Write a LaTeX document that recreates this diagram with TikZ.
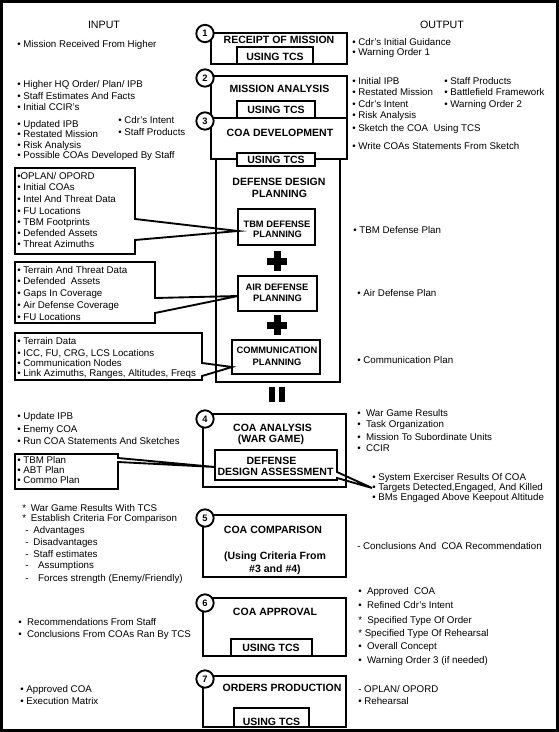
\documentclass[tikz,border=0pt]{standalone}
\usepackage{fontspec}
\setmainfont{Liberation Sans}
\usepackage{tikz}
\usetikzlibrary{calc}

\tikzset{
  stagebox/.style={draw=black, line width=1.5pt},
  tcsbox/.style={draw=black, fill=white, line width=1.5pt},
  calloutline/.style={draw=black, line width=1.4pt, line join=miter},
  numcirc/.style={circle, draw=black, fill=white, line width=1.4pt, minimum size=13pt, inner sep=0pt, font=\fontsize{7}{8}\selectfont\bfseries},
  listitem/.style={anchor=base west, inner sep=0pt, font=\fontsize{7.3}{8}\selectfont},
  colhead/.style={anchor=base, inner sep=0pt, font=\fontsize{8}{9}\selectfont},
  stagettl/.style={anchor=base, inner sep=0pt, font=\fontsize{7.9}{9}\selectfont\bfseries},
  subttl/.style={anchor=base, inner sep=0pt, font=\fontsize{7}{8}\selectfont\bfseries},
}

\begin{document}
\begin{tikzpicture}[x=0.75pt,y=0.75pt,yscale=-1,xscale=1]
\useasboundingbox (0,0) rectangle (559,732);
%Frame
\draw [line width=2.25pt] (1.5,1.5) rectangle (557.5,730.5);

% Column heads
\node [colhead] (inhead) at (104,28) {INPUT};
\node [colhead] (outhead) at (442,28) {OUTPUT};

%Shape: Step 1
\draw [stagebox] (211,33) rectangle (347,64);
\draw [tcsbox] (237,47) rectangle (313,64);
\node [stagettl] (t1) at (279,43.8) {RECEIPT OF MISSION};
\node [stagettl] (u1) at (275,60.3) {USING TCS};

%Shape: Step 2
\draw [stagebox] (211,76) rectangle (347,118);
\draw [tcsbox] (237,101) rectangle (315,118);
\node [stagettl] (t2) at (279.5,92.8) {MISSION ANALYSIS};
\node [stagettl] (u2) at (276,113.5) {USING TCS};

%Shape: Step 3 and defense design planning
\draw [stagebox] (211,118) rectangle (347,159);
\draw [stagebox] (216,159) rectangle (340,382);
\draw [tcsbox] (237,153) rectangle (315,166);
\node [stagettl] (t3) at (280,136.8) {COA DEVELOPMENT};
\node [stagettl] (u3) at (276,163.3) {USING TCS};
\node [stagettl] (ddp1) at (279,185.8) {DEFENSE DESIGN};
\node [stagettl] (ddp2) at (279.5,197.3) {PLANNING};

%Shape: planning boxes
\draw [stagebox] (238,209) rectangle (315,245);
\node [subttl] (tbm1) at (277,227.3) {TBM DEFENSE};
\node [subttl] (tbm2) at (277.5,237.3) {PLANNING};
\coordinate (tbmTip) at (238,231);
\draw [stagebox] (238,276) rectangle (317,311);
\node [subttl] (air1) at (277,290.3) {AIR DEFENSE};
\node [subttl] (air2) at (277.5,301.3) {PLANNING};
\coordinate (airTip) at (238,296);
\draw [stagebox] (232,340) rectangle (320,374);
\node [subttl] (com1) at (277,353.3) {COMMUNICATION};
\node [subttl] (com2) at (277,365.3) {PLANNING};
\coordinate (comTip) at (232,367);

%Shape: plus and equal signs
\fill (273.5,251) rectangle (280.5,271);
\fill (267,257.5) rectangle (287,264.5);
\fill (273.5,315) rectangle (280.5,335);
\fill (267,321.5) rectangle (287,328.5);
\fill (269,387) rectangle (275,402);
\fill (279,387) rectangle (284.5,402);

%Shape: Step 4
\draw [stagebox] (203,414) rectangle (346,487);
\node [stagettl] (t4a) at (272.5,431.8) {COA ANALYSIS};
\node [stagettl] (t4b) at (271,442.8) {(WAR GAME)};
\node [stagettl] (dda1) at (271.5,464.8) {DEFENSE};
\node [stagettl] (dda2) at (275.5,475.8) {DESIGN ASSESSMENT};
\coordinate (ddaTip) at (215,467);

%Shape: Step 5
\draw [stagebox] (203,515) rectangle (346,577);
\node [stagettl] (t5a) at (273,533.8) {COA COMPARISON};
\node [stagettl] (t5b) at (275,559.8) {(Using Criteria From};
\node [stagettl] (t5c) at (275,572.8) {\#3 and \#4)};

%Shape: Step 6
\draw [stagebox] (203,598) rectangle (346,656);
\draw [tcsbox] (231,639) rectangle (312,656);
\node [stagettl] (t6) at (275,615.8) {COA APPROVAL};
\node [stagettl] (u6) at (271,651.5) {USING TCS};

%Shape: Step 7
\draw [stagebox] (203,676) rectangle (346,727);
\draw [tcsbox] (234,708) rectangle (309,727);
\node [stagettl] (t7) at (282,691.8) {ORDERS PRODUCTION};
\node [stagettl] (u7) at (271.5,725) {USING TCS};

% Input text
\node [listitem] (in1) at (17,47.5) {• Mission Received From Higher};
\node [listitem] (in2a) at (17,87.5) {• Higher HQ Order/ Plan/ IPB};
\node [listitem] (in2b) at (17,99.5) {• Staff Estimates And Facts};
\node [listitem] (in2c) at (17,110.5) {• Initial CCIR's};
\node [listitem] (in3a) at (17,127.5) {• Updated IPB};
\node [listitem] (in3b) at (17,137.5) {• Restated Mission};
\node [listitem] (in3c) at (17,148.5) {• Risk Analysis};
\node [listitem] (in3d) at (17,158.5) {• Possible COAs Developed By Staff};
\node [listitem] (in3e) at (118,123.5) {• Cdr's Intent};
\node [listitem] (in3f) at (118,135.5) {• Staff Products};

% Input box for TBM planning
\node [listitem] (tbmA) at (17,179.5) {•OPLAN/ OPORD};
\node [listitem] (tbmB) at (17,190.5) {• Initial COAs};
\node [listitem] (tbmC) at (17,202.5) {• Intel And Threat Data};
\node [listitem] (tbmD) at (17,214.5) {• FU Locations};
\node [listitem] (tbmE) at (17,225.5) {• TBM Footprints};
\node [listitem] (tbmF) at (17,236.5) {• Defended Assets};
\node [listitem] (tbmG) at (17,247.5) {• Threat Azimuths};
\draw [calloutline] (135,219) -- (135,168) -- (15,168) -- (15,254) -- (135,254) -- (135,240) -- (tbmTip) -- cycle;

% Input box for air defense planning
\node [listitem] (airA) at (17,273.5) {• Terrain And Threat Data};
\node [listitem] (airB) at (17,284.5) {• Defended~ Assets};
\node [listitem] (airC) at (17,296.5) {• Gaps In Coverage};
\node [listitem] (airD) at (17,308.5) {• Air Defense Coverage};
\node [listitem] (airE) at (17,320.5) {• FU Locations};
\draw [calloutline] (155,298) -- (155,262) -- (15,262) -- (15,323) -- (155,323) -- (155,313) -- (airTip) -- cycle;

% Input box for communication planning
\node [listitem] (comA) at (17,344.5) {• Terrain Data};
\node [listitem] (comB) at (17,356.5) {• ICC, FU, CRG, LCS Locations};
\node [listitem] (comC) at (17,366.5) {• Communication Nodes};
\node [listitem] (comD) at (17,376.5) {• Link Azimuths, Ranges, Altitudes, Freqs};
\draw [calloutline] (202,363) -- (202,333) -- (15,333) -- (15,380) -- (202,380) -- (202,376) -- (comTip) -- cycle;

% Input for step 4
\node [listitem] (in4a) at (17,419.5) {• Update IPB};
\node [listitem] (in4b) at (17,432.5) {• Enemy COA};
\node [listitem] (in4c) at (17,444.5) {• Run COA Statements And Sketches};
\node [listitem] (planA) at (17,463.5) {• TBM Plan};
\node [listitem] (planB) at (17,473.5) {• ABT Plan};
\node [listitem] (planC) at (17,483.5) {• Commo Plan};
\draw [calloutline] (118,458) -- (118,454) -- (15,454) -- (15,489) -- (118,489) -- (118,462) -- (ddaTip) -- cycle;

% Input for step 5
\node [listitem] (in5a) at (22,511.5) {*\enspace War Game Results With TCS};
\node [listitem] (in5b) at (22,521.5) {*\enspace Establish Criteria For Comparison};
\node [listitem] (in5c) at (25,533.5) {-\enspace Advantages};
\node [listitem] (in5d) at (25,545.5) {-\enspace Disadvantages};
\node [listitem] (in5e) at (25,557.5) {-\enspace Staff estimates};
\node [listitem] (in5f) at (25,568.5) {-\quad Assumptions};
\node [listitem] (in5g) at (25,581.5) {-\quad Forces strength (Enemy/Friendly)};

% Input for steps 6 and 7
\node [listitem] (in6a) at (18,625.5) {•~~Recommendations From Staff};
\node [listitem] (in6b) at (18,637.5) {•~~Conclusions From COAs Ran By TCS};
\node [listitem] (in7a) at (20,692.5) {• Approved COA};
\node [listitem] (in7b) at (20,704.5) {• Execution Matrix};

% Output text
\node [listitem] (out1a) at (352,45.5) {• Cdr's Initial Guidance};
\node [listitem] (out1b) at (352,55.5) {• Warning Order 1};
\node [listitem] (out2a) at (352,84.5) {• Initial IPB};
\node [listitem] (out2b) at (352,95.5) {• Restated Mission};
\node [listitem] (out2c) at (352,107.5) {• Cdr's Intent};
\node [listitem] (out2d) at (352,118.5) {• Risk Analysis};
\node [listitem] (out2e) at (444,84.5) {• Staff Products};
\node [listitem] (out2f) at (444,95.5) {• Battlefield Framework};
\node [listitem] (out2g) at (444,107.5) {• Warning Order 2};
\node [listitem] (out3a) at (352,131.5) {• Sketch the COA~ Using TCS};
\node [listitem] (out3b) at (352,149.5) {• Write COAs Statements From Sketch};
\node [listitem] (outTbm) at (353,233.5) {• TBM Defense Plan};
\node [listitem] (outAir) at (357,296.5) {• Air Defense Plan};
\node [listitem] (outCom) at (357,363.5) {• Communication Plan};
\node [listitem] (out4a) at (357,416.5) {•~~War Game Results};
\node [listitem] (out4b) at (357,427.5) {•~~Task Organization};
\node [listitem] (out4c) at (357,440.5) {•~~Mission To Subordinate Units};
\node [listitem] (out4d) at (357,451.5) {•~~CCIR};
\node [listitem] (sysEx) at (372,480.5) {• System Exerciser Results Of COA};
\node [listitem] (tgt) at (372,490.5) {• Targets Detected,Engaged, And Killed};
\node [listitem] (bms) at (372,500.5) {• BMs Engaged Above Keepout Altitude};
\node [listitem] (out5) at (357,549.5) {- Conclusions And~ COA Recommendation};
\node [listitem] (out6a) at (358,594.5) {•~~Approved~ COA};
\node [listitem] (out6b) at (358,608.5) {•~~Refined Cdr's Intent};
\node [listitem] (out6c) at (358,623.5) {*~~Specified Type Of Order};
\node [listitem] (out6d) at (358,636.5) {*~Specified Type Of Rehearsal};
\node [listitem] (out6e) at (358,649.5) {•~~Overall Concept};
\node [listitem] (out6f) at (358,663.5) {•~~Warning Order 3 (if needed)};
\node [listitem] (out7a) at (358,692.5) {- OPLAN/ OPORD};
\node [listitem] (out7b) at (358,704.5) {• Rehearsal};

%Shape: defense design assessment box
\draw [calloutline] (337,472) -- (337,450) -- (215,450) -- (215,480) -- (337,480) -- (337,478) -- (tgt.west) -- cycle;

%Shape: step numbers
\node [numcirc] (n1) at (205,33.5) {1};
\node [numcirc] (n2) at (205,78) {2};
\node [numcirc] (n3) at (205,121) {3};
\node [numcirc] (n4) at (205,419) {4};
\node [numcirc] (n5) at (205,518) {5};
\node [numcirc] (n6) at (205,603) {6};
\node [numcirc] (n7) at (205,679) {7};
\end{tikzpicture}
\end{document}
